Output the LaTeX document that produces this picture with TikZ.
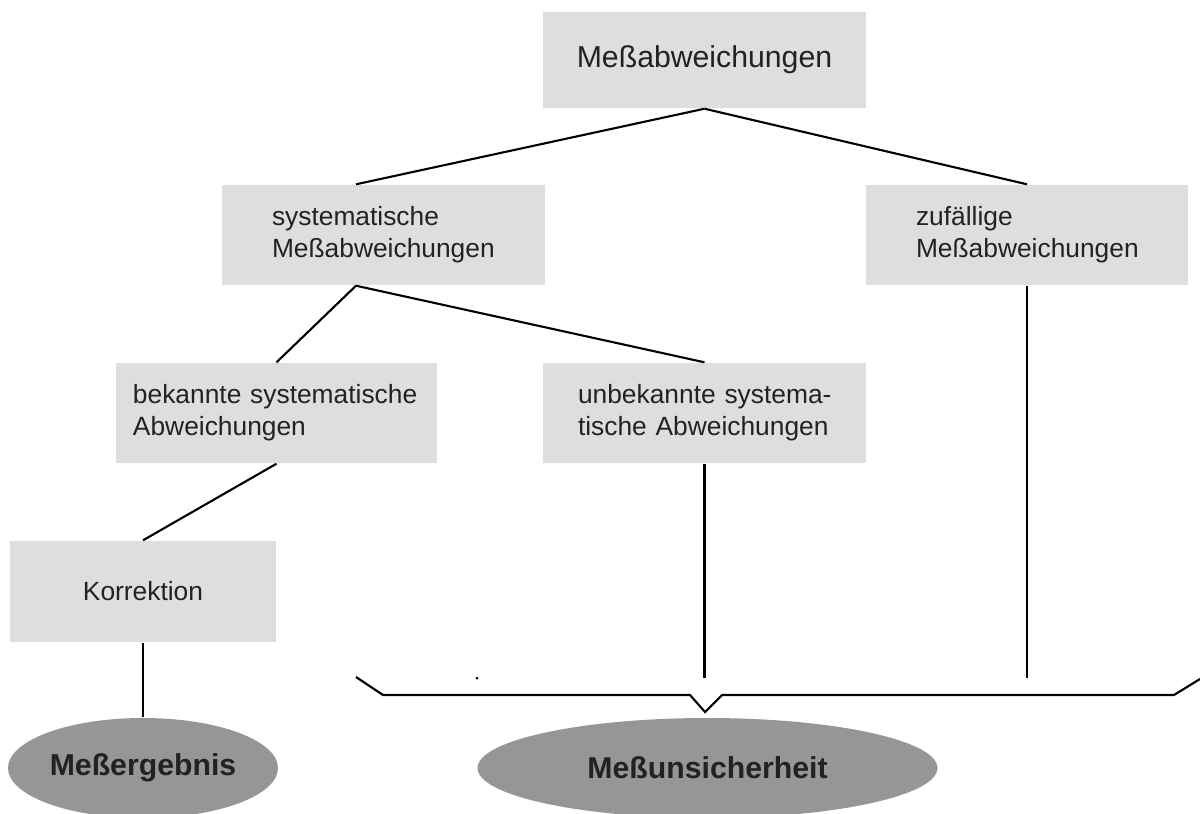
\documentclass[tikz,border=0pt]{standalone}
\usepackage{fontspec}
\setmainfont{Liberation Sans}
\usepackage{xcolor}
\usepackage{tikz}
\usetikzlibrary{shapes,positioning}

\definecolor{boxgray}{HTML}{DEDEDE}
\definecolor{ovalgray}{HTML}{969696}
\definecolor{textdark}{HTML}{222222}

\begin{document}
\begin{tikzpicture}
  % Styles
  \tikzset{
    box/.style={rectangle, fill=boxgray, text=textdark, minimum height=1.0cm,
      font=\fontsize{7.5}{9.1}\selectfont, align=left, inner ysep=0pt},
    topbox/.style={box, font=\fontsize{8.6}{9.1}\selectfont},
    result/.style={ellipse, fill=ovalgray, text=textdark, minimum height=1.0cm,
      inner sep=0pt, font=\fontsize{8.6}{9.1}\selectfont\bfseries},
    line/.style={draw=black, line width=0.6pt}
  }
  \useasboundingbox (0,0) rectangle (12,-8.13);

  % Boxes
  \node[topbox, align=center, minimum width=3.23cm, minimum height=0.96cm] (mess) at (7.045,-0.60) {Meßabweichungen};
  \node[box, text width=2.23cm, inner xsep=0.5cm] (sys) at (3.835,-2.35) {\mbox{systematische}\\\mbox{Meßabweichungen}};
  \node[box, text width=2.22cm, inner xsep=0.5cm] (zuf) at (10.27,-2.35) {\mbox{zufällige}\\\mbox{Meßabweichungen}};
  \node[box, text width=2.87cm, inner xsep=0.17cm] (bek) at (2.765,-4.13) {\mbox{bekannte systematische}\\\mbox{Abweichungen}};
  \node[box, text width=2.53cm, inner xsep=0.35cm] (unbek) at (7.045,-4.13) {\mbox{unbekannte systema-}\\\mbox{tische Abweichungen}};
  \node[box, align=center, minimum width=2.66cm, minimum height=1.01cm] (korr) at (1.43,-5.915) {Korrektion};

  % Results
  \node[result, minimum width=2.70cm] (ergebnis) at (1.43,-7.68) {Meßergebnis};
  \node[result, minimum width=4.60cm] (unsicher) at (7.075,-7.68) {Meßunsicherheit};

  % Brace
  \coordinate (braceleft) at (3.56,-6.77);
  \coordinate (bracetop) at (0,-6.78);
  \coordinate (bracetip) at (7.05,-7.12);
  \coordinate (braceright) at (12.0,-6.79);
  \draw[line] (braceleft) -- (3.83,-6.95) -- (6.90,-6.95) -- (bracetip)
    -- (7.22,-6.95) -- (11.74,-6.95) -- (braceright);
  \fill (4.77,-6.78) circle (0.015);

  % Lines
  \draw[line] (mess.south) -- ([xshift=-0.275cm]sys.north);
  \draw[line] (mess.south) -- (zuf.north);
  \draw[line] ([xshift=-0.275cm]sys.south) -- (bek.north);
  \draw[line] ([xshift=-0.275cm]sys.south) -- (unbek.north);
  \draw[line] (bek.south) -- (korr.north);
  \draw[line] (korr.south) -- (ergebnis.north);
  \draw[line] (unbek.south) -- (unbek.south |- bracetop);
  \draw[line] (zuf.south) -- (zuf.south |- bracetop);

\end{tikzpicture}
\end{document}
